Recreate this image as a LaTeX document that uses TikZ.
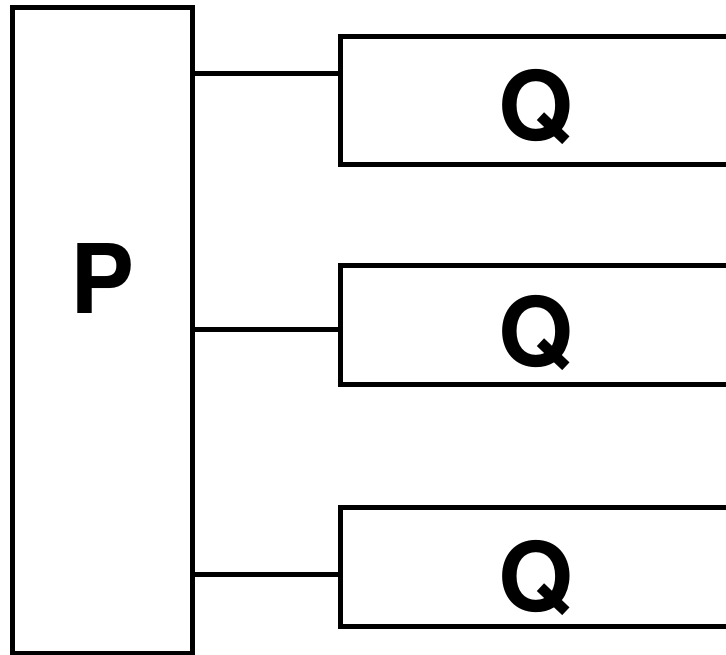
\documentclass[tikz,border=0pt]{standalone}
\usepackage{fontspec}
\setmainfont{TeX Gyre Heros}
\begin{document}
\begin{tikzpicture}[x=1pt,y=1pt,
  boxline/.style={draw=black,line width=5pt,inner sep=0pt,outer sep=0pt,rectangle},
  lbl/.style={font=\fontsize{96}{96}\selectfont\bfseries,inner sep=0pt,anchor=base},
  conn/.style={draw=black,line width=5pt}]
\useasboundingbox (0,0) rectangle (726,-655);
\clip (0,0) rectangle (726,-655);
\fill[white] (0,0) rectangle (726,-655);
\node[boxline,minimum width=179.5pt,minimum height=645.5pt] (P) at (102.25,-330.25) {};
\node[boxline,minimum width=391pt,minimum height=128pt] (Q1) at (536,-101) {};
\node[boxline,minimum width=391pt,minimum height=118.5pt] (Q2) at (536,-324.75) {};
\node[boxline,minimum width=391pt,minimum height=119.5pt] (Q3) at (536,-566.75) {};
\node[lbl] (Pl) at (102.6,-313) {P};
\node[lbl] (Q1l) at (536,-141) {Q};
\node[lbl] (Q2l) at (536,-366) {Q};
\node[lbl] (Q3l) at (536,-611) {Q};
\coordinate (c1) at (0,-74);
\coordinate (c2) at (0,-329.5);
\coordinate (c3) at (0,-574);
\draw[conn] (P.east |- c1) -- (Q1.west |- c1);
\draw[conn] (P.east |- c2) -- (Q2.west |- c2);
\draw[conn] (P.east |- c3) -- (Q3.west |- c3);
\end{tikzpicture}
\end{document}
